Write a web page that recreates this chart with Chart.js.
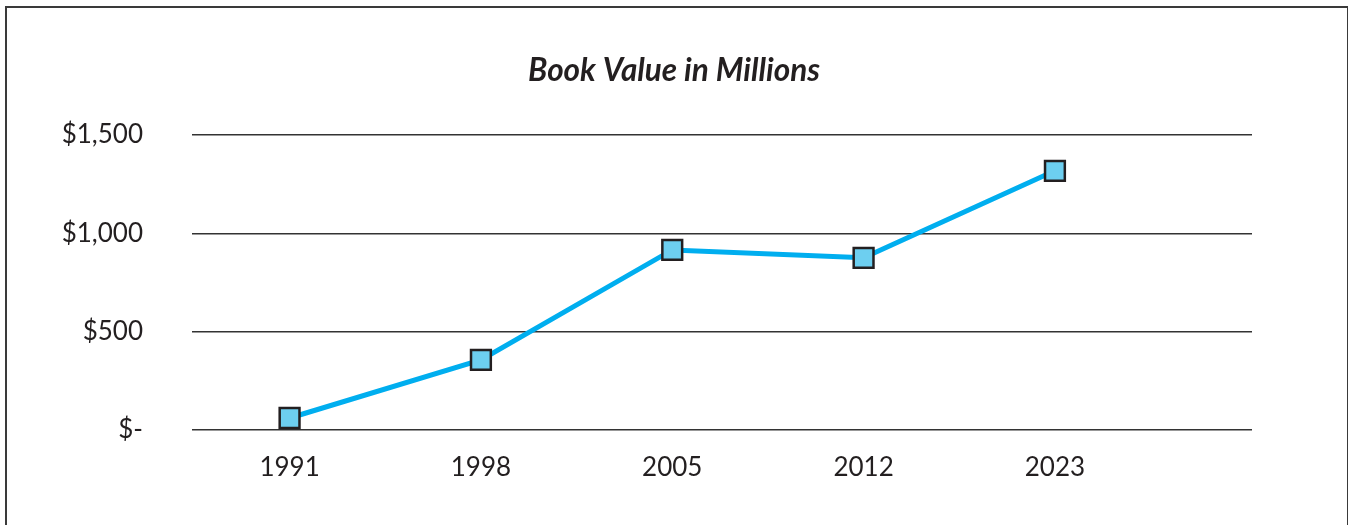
<!DOCTYPE html>
<html>
<head>
<meta charset="utf-8">
<script src="https://cdn.jsdelivr.net/npm/chart.js@4"></script>
<style>
  html, body { margin: 0; padding: 0; background: #fff; }
  #wrap { position: relative; width: 1348px; height: 525px; overflow: hidden; }
  #frame {
    position: absolute; left: 5px; top: 6px; width: 1340px; height: 540px;
    border: 2px solid #3a3a3a; pointer-events: none;
  }
</style>
</head>
<body>
<div id="wrap">
  <canvas id="my-chart" width="1348" height="525"></canvas>
  <div id="frame"></div>
</div>
<script>
const years = ['1991', '1998', '2005', '2012', '2023'];
const bookValues = [61, 356, 915, 875, 1317];
const yTicks = [0, 500, 1000, 1500];

const ctx = document.getElementById('my-chart').getContext('2d');

// points sit on 1..n so the extra half slot on the right matches the original
const points = bookValues.map((v, i) => ({ x: i + 1, y: v }));

const textColor = '#231f20';

let myChart = new Chart(ctx, {
  type: 'line',
  data: {
    datasets: [
      {
        label: 'Book Value',
        data: points,
        borderColor: '#00aeef',
        borderWidth: 5,
        pointStyle: 'rect',
        pointRadius: 14,
        pointHoverRadius: 14,
        pointBackgroundColor: '#6dcff0',
        pointBorderColor: '#231f20',
        pointBorderWidth: 2.5,
        tension: 0,
      },
    ],
  },
  options: {
    responsive: false,
    animation: false,
    events: [],
    layout: {
      padding: 0,
    },
    plugins: {
      legend: { display: false },
      tooltip: { enabled: false },
      title: {
        display: true,
        text: 'Book Value in Millions',
        color: textColor,
        font: { family: 'Lato', size: 31.5, weight: 'bold', style: 'italic' },
        padding: { top: 52, bottom: 45 },
      },
    },
    scales: {
      x: {
        type: 'linear',
        min: 0.49,
        max: 6.03,
        grid: { display: false, drawTicks: false },
        border: { display: false },
        afterBuildTicks: (scale) => {
          scale.ticks = years.map((_, i) => ({ value: i + 1 }));
        },
        afterFit: (scale) => { scale.height = 95; },
        ticks: {
          autoSkip: false,
          maxRotation: 0,
          padding: 22,
          color: textColor,
          font: { family: 'Lato', size: 26 },
          callback: (value) => years[value - 1] || '',
        },
      },
      y: {
        min: 0,
        max: 1500,
        grid: { color: '#333333', lineWidth: 1.4, drawTicks: false },
        border: { display: false },
        afterBuildTicks: (scale) => {
          scale.ticks = yTicks.map((v) => ({ value: v }));
        },
        afterFit: (scale) => { scale.width = 192; },
        ticks: {
          padding: 49,
          color: textColor,
          font: { family: 'Lato', size: 26 },
          callback: (value) => value === 0 ? '$-' : '$' + value.toLocaleString('en-US'),
        },
      },
      // empty right axis, only reserves the blank strip right of the plot
      yRight: {
        position: 'right',
        min: 0,
        max: 1500,
        grid: { display: false, drawTicks: false },
        border: { display: false },
        ticks: { display: false },
        afterFit: (scale) => { scale.width = 96; },
      },
    },
  },
});
</script>
</body>
</html>
